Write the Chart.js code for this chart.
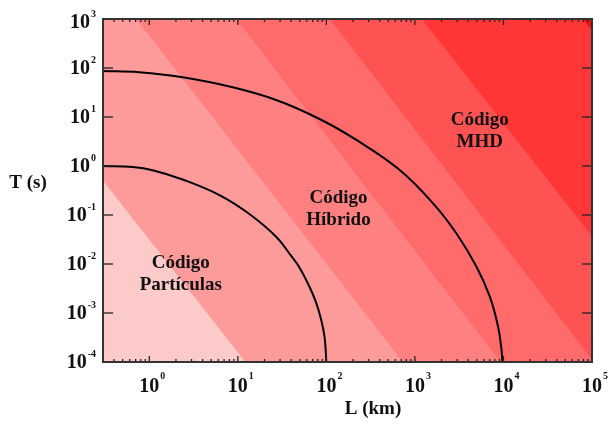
<!DOCTYPE html>
<html>
<head>
<meta charset="utf-8">
<script src="https://cdn.jsdelivr.net/npm/chart.js@4.4.1/dist/chart.umd.min.js"></script>
<style>
  html, body { margin: 0; padding: 0; background: #fff; }
  #wrap { width: 608px; height: 427px; }
</style>
</head>
<body>
<div id="wrap"><canvas id="chart" width="608" height="427"></canvas></div>
<script>
/* ── DATA ─────────────────────────────────────────────── */
const xRange   = [0.3, 1e5];
const yRange   = [1e-4, 1e3];
const xDecades = [1, 10, 100, 1000, 10000, 100000];
const yDecades = [1e-4, 1e-3, 1e-2, 1e-1, 1, 10, 100, 1000];

// colour bands: left boundary of each band, given as L where it meets T=1e3 and T=1e-4
const bandTopL   = [1e-3, 0.011, 0.71, 9.6, 109, 1195, 79000];
const bandBotL   = [1e-3, 12.2, 730, 9300, 1.05e5, 1.3e6, 8.7e7];
const bandColors = ["#fdcaca", "#fd9a9a", "#ff8080", "#ff6a6a", "#ff5353", "#ff3636", "#f20c0c"];

// limit curves
const innerL = [0.3, 0.65, 1.09, 2.38, 6.2, 13.5, 27.1, 39.8, 49.8, 64.6, 75.9, 87.5, 95.5, 100];
const innerT = [1.0, 0.95, 0.82, 0.53, 0.255, 0.105, 0.036, 0.0148, 0.0084, 0.0034, 0.0017, 7.2e-4, 3.2e-4, 1e-4];
const outerL = [0.3, 0.77, 2.38, 8.75, 27.1, 83.8, 218, 673, 1603, 2946, 4963, 7015, 8710, 9500, 9700];
const outerT = [87, 82, 64.6, 40.4, 22.2, 9.1, 3.4, 0.83, 0.173, 0.042, 0.0088, 0.00215, 5.2e-4, 1.8e-4, 1e-4];

// region labels: [line1, line2, L, T]
const regionLabels = [
  ["Código", "Partículas", 2.27, 0.00625],
  ["Código", "Híbrido", 137, 0.132],
  ["Código", "MHD", 5400, 5.2]
];

const xTitle = "L (km)";
const yTitle = "T (s)";

/* ── DATASETS ─────────────────────────────────────────── */
const SERIF = "'Liberation Serif', 'Times New Roman', serif";

const bandSets = bandColors.map((c, i) => ({
  data: [
    { x: bandTopL[i], y: yRange[1] },
    { x: bandBotL[i], y: yRange[0] },
    { x: 1e10, y: yRange[0] }
  ],
  showLine: true,
  borderWidth: 0,
  pointRadius: 0,
  backgroundColor: c,
  fill: "end",
  order: 50 - i
}));

const curve = (L, T) => ({
  data: L.map((v, i) => ({ x: v, y: T[i] })),
  showLine: true,
  borderColor: "#000",
  borderWidth: 2,
  pointRadius: 0,
  fill: false,
  tension: 0.4,
  order: 0
});

/* ── DECORATION PLUGIN (frame, inward ticks, labels) ──── */
const decor = {
  id: "decor",
  afterDraw(chart) {
    const { ctx, chartArea: a, scales: { x, y } } = chart;
    const seg = (x1, y1, x2, y2) => { ctx.beginPath(); ctx.moveTo(x1, y1); ctx.lineTo(x2, y2); ctx.stroke(); };
    ctx.save();

    // ticks
    ctx.strokeStyle = "#222";
    ctx.lineWidth = 1.3;
    x.ticks.forEach(t => {
      const px = x.getPixelForValue(t.value);
      if (px < a.left + 2 || px > a.right - 2) return;
      const len = xDecades.includes(t.value) ? 6 : 3;
      seg(px, a.bottom, px, a.bottom - len);
      seg(px, a.top, px, a.top + len);
    });
    yDecades.forEach(v => {
      const py = y.getPixelForValue(v);
      if (py < a.top + 2 || py > a.bottom - 2) return;
      seg(a.left, py, a.left + 10, py);
      seg(a.right, py, a.right - 10, py);
    });

    // frame
    ctx.strokeStyle = "#333";
    ctx.lineWidth = 2;
    ctx.strokeRect(a.left, a.top, a.right - a.left, a.bottom - a.top);

    // tick labels
    ctx.fillStyle = "#111";
    ctx.textBaseline = "middle";
    xDecades.forEach(v => {
      const px = x.getPixelForValue(v);
      const e = String(Math.round(Math.log10(v)));
      ctx.font = "bold 20px " + SERIF;
      ctx.textAlign = "center";
      ctx.fillText("10", px, a.bottom + 25);
      ctx.font = "bold 10px " + SERIF;
      ctx.textAlign = "left";
      ctx.fillText(e, px + 11, a.bottom + 14);
    });
    yDecades.forEach(v => {
      // top label sits a little lower, as in the original
      const py = y.getPixelForValue(v) + (v === yRange[1] ? 3 : 0);
      const e = String(Math.round(Math.log10(v)));
      ctx.font = "bold 10px " + SERIF;
      ctx.textAlign = "right";
      const w = ctx.measureText(e).width;
      ctx.fillText(e, a.left - 7, py - 8);
      ctx.font = "bold 20px " + SERIF;
      ctx.fillText("10", a.left - 8 - w, py + 1);
    });

    // axis titles
    ctx.font = "bold 19px " + SERIF;
    ctx.textAlign = "center";
    ctx.fillText(xTitle, 373, 409);
    ctx.fillText(yTitle, 28, 183);

    // region labels
    regionLabels.forEach(([l1, l2, L, T]) => {
      const px = x.getPixelForValue(L);
      const py = y.getPixelForValue(T);
      ctx.fillText(l1, px, py - 11);
      ctx.fillText(l2, px, py + 11);
    });

    ctx.restore();
  }
};

/* ── CHART ────────────────────────────────────────────── */
const hiddenAxis = {
  ticks: { display: false, padding: 0 },
  grid: { display: false, drawTicks: false, tickLength: 0 },
  border: { display: false },
  title: { display: false }
};

new Chart(document.getElementById("chart"), {
  type: "scatter",
  data: { datasets: [...bandSets, curve(innerL, innerT), curve(outerL, outerT)] },
  options: {
    responsive: false,
    devicePixelRatio: 1,
    animation: false,
    layout: { padding: { left: 103, right: 16, top: 19, bottom: 65 } },
    plugins: { legend: { display: false }, tooltip: { enabled: false } },
    scales: {
      x: {
        ...hiddenAxis,
        type: "logarithmic",
        min: xRange[0],
        max: xRange[1],
        afterBuildTicks: s => {
          const vals = [];
          [0.1, ...xDecades].forEach(d => {
            for (let k = 1; k < 10; k++) {
              const v = d * k;
              if (v >= xRange[0] && v <= xRange[1]) vals.push(v);
            }
          });
          s.ticks = vals.map(value => ({ value }));
        }
      },
      y: {
        ...hiddenAxis,
        type: "logarithmic",
        min: yRange[0],
        max: yRange[1]
      }
    }
  },
  plugins: [decor]
});
</script>
</body>
</html>
